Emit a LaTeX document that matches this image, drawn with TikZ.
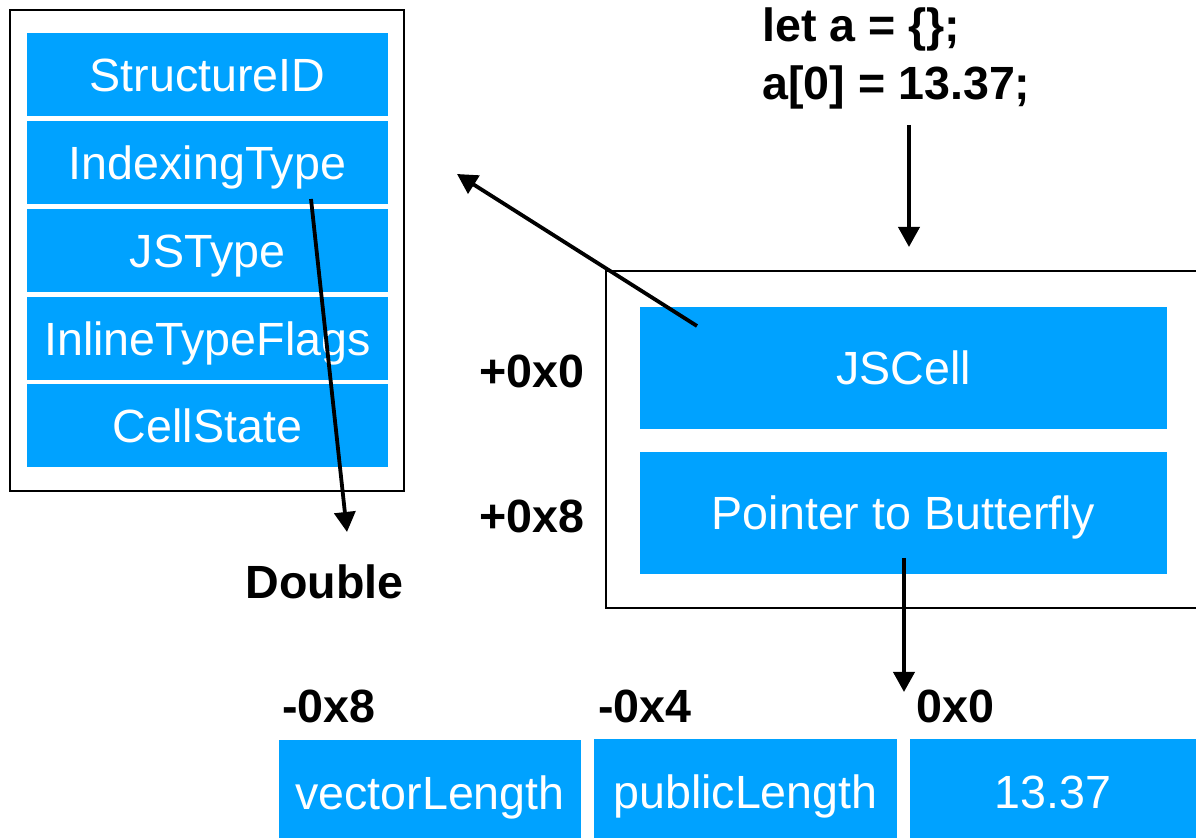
\documentclass[tikz,border=0pt]{standalone}
\usepackage{fontspec}
\setmainfont{Liberation Sans}
\usetikzlibrary{arrows.meta}
\definecolor{cellblue}{RGB}{0,162,255}
\begin{document}
\begin{tikzpicture}[x=0.5pt,y=-0.5pt,
  cell/.style={fill=cellblue, text=white, inner sep=0pt, text height=16.7pt, text depth=0pt,
    font=\fontsize{23.3}{28}\selectfont},
  lrow/.style={cell, minimum width=180.5pt, minimum height=41.5pt},
  rrow/.style={cell, minimum width=263.5pt, minimum height=61pt},
  brow/.style={cell, minimum height=53pt},
  frame/.style={draw=black, line width=1pt, inner sep=0pt},
  lbl/.style={inner sep=0pt, font=\fontsize{23.3}{28}\selectfont\bfseries},
  arr/.style={line width=1.9pt, -{Triangle[length=10pt,width=10.5pt]}}]
\clip (0,0) rectangle (1196,838);
\fill[white] (0,0) rectangle (1196,838);

% left structure box
\node[frame, minimum width=197pt, minimum height=240.5pt] (sframe) at (207,250.5) {};
\node[lrow] (sid) at (207.5,74.5) {StructureID};
\node[lrow] (itype) at (207.5,162.5) {IndexingType};
\node[lrow] (jstype) at (207.5,250.5) {JSType};
\node[lrow] (itf) at (207.5,338.5) {InlineTypeFlags};
\node[lrow] (cstate) at (207.5,426) {CellState};

% code
\node[lbl, anchor=base west] (code1) at (762,42) {let a = \{\};};
\node[lbl, anchor=base west] (code2) at (762,100) {a[0] = 13.37;};

% right object box
\node[frame, minimum width=307pt, minimum height=168.5pt] (oframe) at (913,439.5) {};
\node[rrow] (jscell) at (903.5,368) {JSCell};
\node[rrow] (ptr) at (903.5,513) {Pointer to Butterfly};
\node[lbl, anchor=east] (off0) at (585,371) {+0x0};
\node[lbl, anchor=east] (off8) at (585,516) {+0x8};

% Double
\node[lbl] (dbl) at (324.5,582) {Double};

% butterfly
\node[brow, minimum width=151pt] (vlen) at (430,793) {vectorLength};
\node[brow, minimum width=151.5pt] (plen) at (745.5,792) {publicLength};
\node[brow, minimum width=143pt] (val) at (1053,792) {13.37};
\node[lbl, anchor=base west] (m8) at (282,723) {-0x8};
\node[lbl, anchor=base west] (m4) at (598,723) {-0x4};
\node[lbl, anchor=base west] (z0) at (916,723) {0x0};

% connector end points
\coordinate (codeout) at (909,125);
\coordinate (objin) at (909,247);
\coordinate (cellout) at (697,326);
\coordinate (structin) at (457,174);
\coordinate (itout) at (311,199);
\coordinate (dblin) at (347,532);
\coordinate (ptrout) at (904,558);
\coordinate (valin) at (904,692);

\draw[arr] (codeout) -- (objin);
\draw[arr] (cellout) -- (structin);
\draw[arr] (itout) -- (dblin);
\draw[arr] (ptrout) -- (valin);
\end{tikzpicture}
\end{document}
